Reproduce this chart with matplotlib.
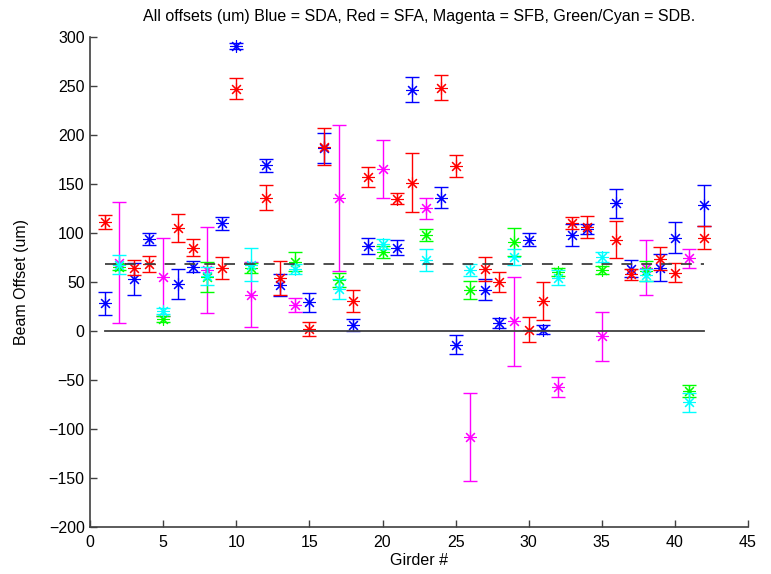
import matplotlib.pyplot as plt
import numpy as np

plt.rcParams['font.family'] = ['Liberation Sans', 'DejaVu Sans']

# *** datos (um)
girder_sda = [1, 3, 4, 6, 7, 9, 10, 12, 13, 15, 16, 18, 19, 21, 22, 24, 25, 27, 28, 30, 31, 33, 34, 36, 37, 39, 40, 42]
offset_sda = [28, 53, 94, 48, 65.5, 109.6, 291, 169, 47, 29, 186.5, 6, 86.5, 85, 246, 136, -14, 42, 8, 93, 1, 98,
              104, 130, 63.5, 64.5, 95, 128]
err_sda = [12, 16, 6, 15.5, 5.5, 7, 3, 6.5, 11, 10, 15, 6.5, 8, 7.5, 12.5, 11, 10, 11, 5, 6.5, 4.5, 11.5, 5.5, 14.7,
           8.5, 14, 16, 21]

girder_sfa = girder_sda
offset_sfa = [111, 64.5, 68.5, 105, 85, 64, 247, 136, 54, 2, 188, 30.5, 157, 135, 151, 248, 168, 63, 50, 1, 30.5,
              110, 106, 93, 57.7, 73.6, 59.4, 95]
err_sfa = [7, 8, 8, 14.5, 9, 11, 11, 13, 17.5, 7.5, 19, 11, 10.5, 6, 30, 12.5, 11.5, 12, 10.5, 12.7, 19.5, 6, 11,
           19, 5.5, 12, 10, 12]

girder_sfb = [2, 5, 8, 11, 14, 17, 20, 23, 26, 29, 32, 35, 38, 41]
offset_sfb = [69.7, 55, 62, 37, 26.5, 135.5, 165.5, 125, -108, 9.6, -57, -5.5, 64.5, 74]
err_sfb = [62, 40, 44, 33, 7, 74.5, 29.5, 11, 45, 45.7, 10, 25, 28, 9.5]

girder_sdb = girder_sfb
offset_sdb_g = [65.5, 12, 55, 64.5, 70.6, 51.6, 80.8, 97.7, 41.7, 90.6, 60.4, 62, 61, -61]
err_sdb_g = [3, 3, 15, 5, 10, 7, 6, 6, 9.5, 14.7, 4, 4, 10, 6]
offset_sdb_c = [67.5, 20, 56, 67.6, 62.8, 42.4, 89, 72.2, 62.4, 75.3, 54.3, 75.7, 56.7, -73]
err_sdb_c = [10, 3, 9, 17, 5, 10, 5, 11.5, 6, 8, 8, 5, 6, 10]

offset_medio = 68

fig = plt.figure(figsize=(7.71, 5.74), dpi=100)
ax = fig.add_axes([0.117, 0.082, 0.853, 0.854])

series = [
    (girder_sda, offset_sda, err_sda, (0, 0, 1)),
    (girder_sfa, offset_sfa, err_sfa, (1, 0, 0)),
    (girder_sfb, offset_sfb, err_sfb, (1, 0, 1)),
    (girder_sdb, offset_sdb_g, err_sdb_g, (0, 1, 0)),
    (girder_sdb, offset_sdb_c, err_sdb_c, (0, 1, 1)),
]
for gx, gy, ge, color in series:
    ax.errorbar(gx, gy, yerr=ge, fmt='none', ecolor=color, elinewidth=1.0, capsize=4.8, capthick=1.0)
    ax.plot(gx, gy, linestyle='none', marker=(8, 2, 0), markersize=9, markeredgewidth=0.8, color=color)

todos = np.array(girder_sda + girder_sfb)
ax.plot([todos.min(), todos.max()], [0, 0], color='#404040', lw=1.3)
ax.plot([todos.min(), todos.max()], [offset_medio, offset_medio], '--', color='#404040', lw=1.3, dashes=(6, 5))

ax.set_xlim(0, 45)
ax.set_ylim(-200, 300)
ax.set_xticks(np.arange(0, 46, 5))
ax.set_yticks(np.arange(-200, 301, 50))
for s in ['top', 'right']:
    ax.spines[s].set_visible(False)
for s in ['left', 'bottom']:
    ax.spines[s].set_color('#404040')
    ax.spines[s].set_linewidth(1.2)
ax.tick_params(direction='in', length=5, width=1.0, color='#404040', labelsize=11.5)
ax.tick_params(axis='x', pad=6)
ax.tick_params(axis='y', pad=4)
ax.set_xlabel('Girder #', fontsize=11.5, labelpad=2)
ax.set_ylabel('Beam Offset (um)', fontsize=11.5, labelpad=14)
ax.set_title('All offsets (um) Blue = SDA, Red = SFA, Magenta = SFB, Green/Cyan = SDB.', fontsize=11.5, pad=11)

plt.savefig('out.png', dpi=100)
